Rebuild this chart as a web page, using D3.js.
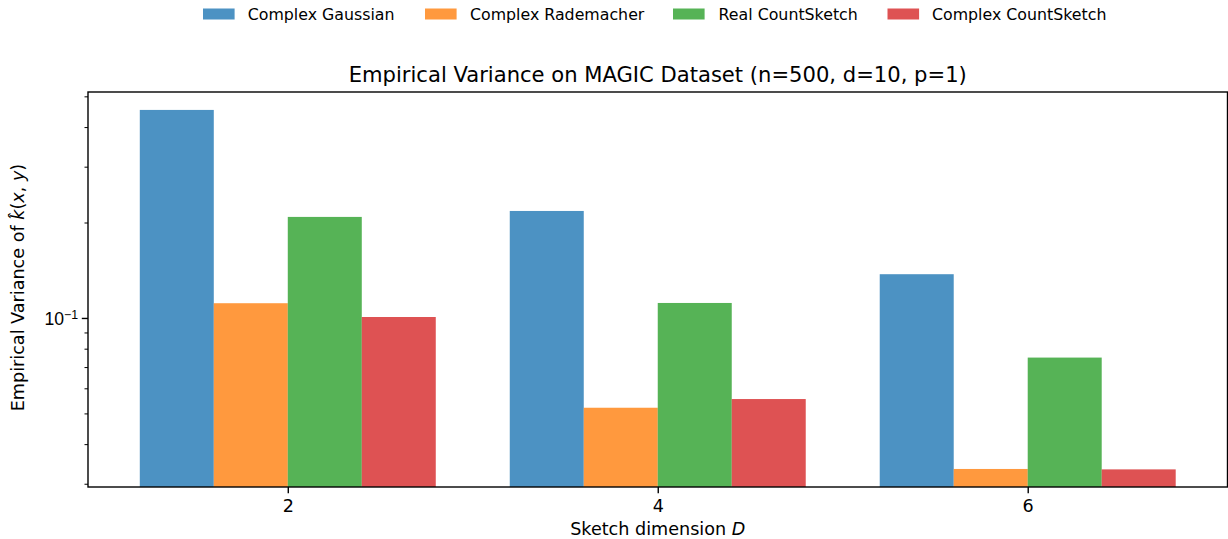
<!DOCTYPE html>
<html><head><meta charset="utf-8">
<script src="https://cdn.jsdelivr.net/npm/d3@7"></script>
<style>body{margin:0;background:#fff}svg{display:block;font-family:"DejaVu Sans",sans-serif}</style>
</head><body><svg id="c" width="1228" height="539"></svg>
<script>
const dims = [2, 4, 6];
const seriesNames = ["Complex Gaussian", "Complex Rademacher", "Real CountSketch", "Complex CountSketch"];
const seriesColors = ["#1f77b4", "#ff7f0e", "#2ca02c", "#d62728"];
const complexGaussian = [0.453, 0.2175, 0.1374];
const complexRademacher = [0.1113, 0.0521, 0.0334];
const realCountSketch = [0.2083, 0.1115, 0.0750];
const complexCountSketch = [0.1007, 0.0555, 0.0333];
const seriesValues = [complexGaussian, complexRademacher, realCountSketch, complexCountSketch];
const xTickValues = [2, 4, 6];
const yMajorTicks = [0.1];
const yMinorTicks = [0.03, 0.04, 0.05, 0.06, 0.07, 0.08, 0.09, 0.2, 0.3, 0.4, 0.5];

const svg = d3.select("#c");
const L = 88, R = 1227.5, T = 92, B = 487;
const x = d3.scaleLinear().domain([0.92, 7.08]).range([L, R]);
const y = d3.scaleLog().domain([0.0293, 0.516]).range([B, T]);
const barW = 0.4;

svg.append("defs").append("clipPath").attr("id","clip")
  .append("rect").attr("x",L).attr("y",T).attr("width",R-L).attr("height",B-T);

const g = svg.append("g").attr("clip-path","url(#clip)");
seriesValues.forEach((vals, si) => {
  g.selectAll(null).data(vals).enter().append("rect")
    .attr("x", (d,i) => x(dims[i] - 0.8 + barW*si))
    .attr("width", x(barW) - x(0))
    .attr("y", d => y(d))
    .attr("height", d => B + 5 - y(d))
    .attr("fill", seriesColors[si]).attr("fill-opacity", 0.8);
});

// axes
const fs = 17.6;
const xAxis = d3.axisBottom(x).tickValues(xTickValues).tickSize(6.2).tickPadding(6).tickFormat(d3.format("d"));
const xg = svg.append("g").attr("transform",`translate(0,${B})`).call(xAxis);
xg.select(".domain").remove();
xg.selectAll("line").attr("stroke","#000").attr("stroke-width",1.4);
xg.selectAll("text").attr("font-size",fs).attr("fill","#000").attr("font-family","DejaVu Sans");

const yMinor = d3.axisLeft(y).tickValues(yMinorTicks).tickSize(3.5).tickFormat("");
const ymg = svg.append("g").attr("transform",`translate(${L},0)`).call(yMinor);
ymg.select(".domain").remove();
ymg.selectAll("line").attr("stroke","#000").attr("stroke-width",1.0);

const yMajor = d3.axisLeft(y).tickValues(yMajorTicks).tickSize(6.2).tickPadding(6).tickFormat("");
const yg = svg.append("g").attr("transform",`translate(${L},0)`).call(yMajor);
yg.select(".domain").remove();
yg.selectAll("line").attr("stroke","#000").attr("stroke-width",1.4);
yg.selectAll(".tick").each(function(d){
  const t = d3.select(this).append("text").attr("x",-10).attr("dy","0.35em")
    .attr("text-anchor","end").attr("font-size",fs).attr("fill","#000");
  const e = Math.round(Math.log10(d));
  t.append("tspan").text("10");
  t.append("tspan").attr("dy","-0.45em").attr("font-size",fs*0.7).text("\u2212" + Math.abs(e));
});

// frame
svg.append("rect").attr("x",L).attr("y",T).attr("width",R-L).attr("height",B-T)
  .attr("fill","none").attr("stroke","#000").attr("stroke-width",1.4);

// title
svg.append("text").attr("x",(L+R)/2).attr("y",82).attr("text-anchor","middle")
  .attr("font-size",21.1).attr("fill","#000")
  .text("Empirical Variance on MAGIC Dataset (n=500, d=10, p=1)");

// x label
const xl = svg.append("text").attr("x",(L+R)/2).attr("y",535).attr("text-anchor","middle")
  .attr("font-size",fs).attr("fill","#000");
xl.append("tspan").text("Sketch dimension ");
xl.append("tspan").attr("font-style","italic").text("D");

// y label
const yl = svg.append("text").attr("transform",`translate(24,${(T+B)/2 - 2}) rotate(-90)`)
  .attr("text-anchor","middle").attr("font-size",fs).attr("fill","#000");
yl.append("tspan").text("Empirical Variance of ");
yl.append("tspan").attr("font-style","italic").text("k\u0302");
yl.append("tspan").text("(");
yl.append("tspan").attr("font-style","italic").text("x");
yl.append("tspan").text(", ");
yl.append("tspan").attr("font-style","italic").text("y");
yl.append("tspan").text(")");

// legend
const lfs = 15.8;
const legPatchX = [203, 425, 673, 887.5];
const legTextX = [247.7, 470, 718.6, 932];
const leg = svg.append("g");
seriesNames.forEach((n, i) => {
  leg.append("rect").attr("x",legPatchX[i]).attr("y",8.5).attr("width",31.6).attr("height",11)
    .attr("fill",seriesColors[i]).attr("fill-opacity",0.8);
  leg.append("text").attr("x",legTextX[i]).attr("y",19.8).attr("font-size",lfs).attr("fill","#000").text(n);
});
</script></body></html>
